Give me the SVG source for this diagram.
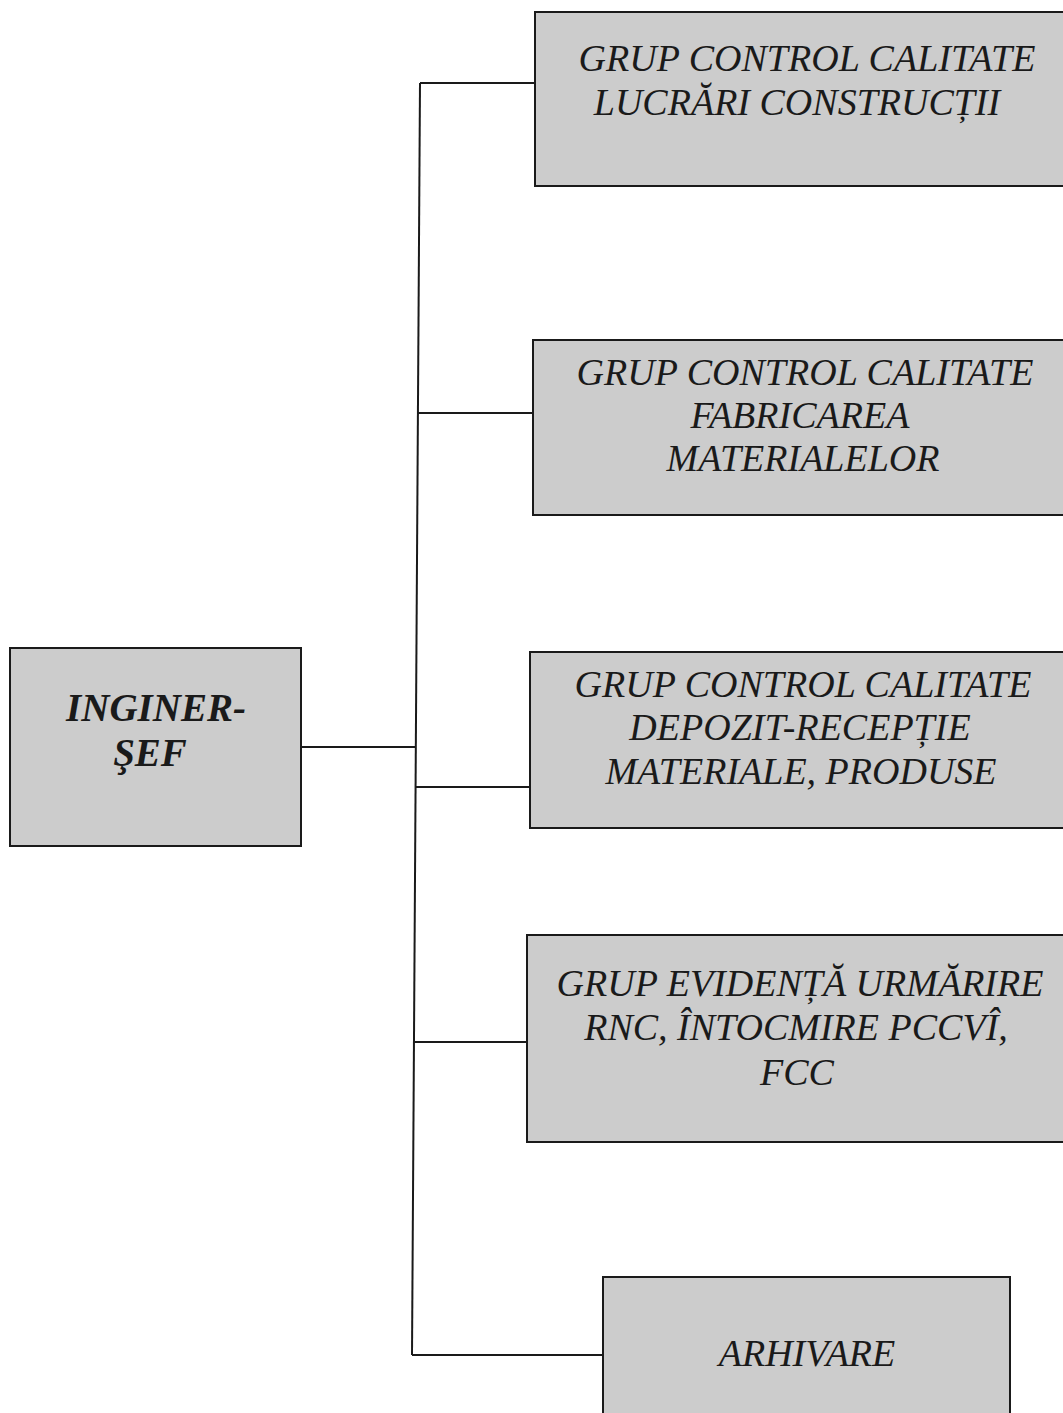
<svg xmlns="http://www.w3.org/2000/svg" width="1063" height="1413" viewBox="0 0 1063 1413">
<defs>
<style>
.box{fill:#cccccc;stroke:#1a1a1a;stroke-width:2}
.t{font-family:"Liberation Serif","Times New Roman",serif;font-style:italic;font-size:38px;fill:#1a1a1a;text-anchor:middle}
.b{font-weight:bold;font-size:39px}
.c{fill:none;stroke:#1a1a1a;stroke-width:2}
</style>
</defs>
<rect width="1063" height="1413" fill="#ffffff"/>
<g id="connectors">
<path class="c" d="M420,83 L412,1355"/>
<path class="c" d="M420,83 H535"/>
<path class="c" d="M418,413 H533"/>
<path class="c" d="M301,747 H416"/>
<path class="c" d="M415,787 H530"/>
<path class="c" d="M414,1042 H527"/>
<path class="c" d="M412,1355 H603"/>
</g>
<g id="inginer-sef">
<rect class="box" x="10" y="648" width="291" height="198"/>
<text class="t b" x="156" y="721">INGINER-</text>
<text class="t b" x="150" y="766">ŞEF</text>
</g>
<g id="grup-lucrari">
<rect class="box" x="535" y="12" width="540" height="174"/>
<text class="t" x="807" y="71">GRUP CONTROL CALITATE</text>
<text class="t" x="797" y="115">LUCRĂRI CONSTRUCȚII</text>
</g>
<g id="grup-fabricarea">
<rect class="box" x="533" y="340" width="542" height="175"/>
<text class="t" x="805" y="385">GRUP CONTROL CALITATE</text>
<text class="t" x="800" y="428">FABRICAREA</text>
<text class="t" x="803" y="471">MATERIALELOR</text>
</g>
<g id="grup-depozit">
<rect class="box" x="530" y="652" width="545" height="176"/>
<text class="t" x="803" y="697">GRUP CONTROL CALITATE</text>
<text class="t" x="800" y="740">DEPOZIT-RECEPȚIE</text>
<text class="t" x="801" y="784">MATERIALE, PRODUSE</text>
</g>
<g id="grup-evidenta">
<rect class="box" x="527" y="935" width="548" height="207"/>
<text class="t" x="800" y="996">GRUP EVIDENȚĂ URMĂRIRE</text>
<text class="t" x="796" y="1040">RNC, ÎNTOCMIRE PCCVÎ,</text>
<text class="t" x="797" y="1085">FCC</text>
</g>
<g id="arhivare">
<rect class="box" x="603" y="1277" width="407" height="150"/>
<text class="t" x="807" y="1366">ARHIVARE</text>
</g>
</svg>
